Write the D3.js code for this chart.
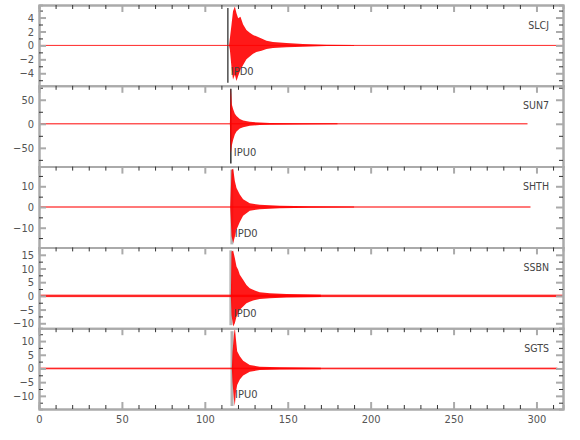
<!DOCTYPE html>
<html>
<head>
<meta charset="utf-8">
<script src="https://cdn.jsdelivr.net/npm/d3@7"></script>
<style>
  body { margin: 0; background: #fff; }
  text { font-family: "Liberation Sans Narrow", "DejaVu Sans Condensed", "Liberation Sans", sans-serif; }
</style>
</head>
<body>
<div id="chart"></div>
<script>
// station traces (time in s, amplitude in counts)
const stations = ['SLCJ', 'SUN7', 'SHTH', 'SSBN', 'SGTS'];
const pickTimes = [113.9, 115.7, 116.3, 115.7, 116.4];
const pickLabels = ['IPD0', 'IPU0', 'IPD0', 'IPD0', 'IPU0'];
const traceEnds = [316, 294.6, 296.4, 316, 312.6];
const noiseLevels = [0.05, 1.2, 0.3, 0.45, 0.3];
const yDomains = [[-5.8, 5.8], [-89, 79], [-19.5, 19.5], [-11.8, 17.7], [-14.8, 14.7]];
const yMajorTicks = [[-4, -2, 0, 2, 4], [-50, 0, 50], [-10, 0, 10], [-10, -5, 0, 5, 10, 15], [-10, -5, 0, 5, 10]];
const yMinorTicks = [[-5, -3, -1, 1, 3, 5], [-75, -25, 25, 75], [-15, -5, 5, 15], [-7.5, -2.5, 2.5, 7.5, 12.5], [-12.5, -7.5, -2.5, 2.5, 7.5, 12.5]];
const xMajorTicks = [0, 50, 100, 150, 200, 250, 300];
const xMinorTicks = [10, 20, 30, 40, 60, 70, 80, 90, 110, 120, 130, 140, 160, 170, 180, 190, 210, 220, 230, 240, 260, 270, 280, 290, 310];

// envelopes of each seismogram around the arrival
const slcjTime = [114.6, 115.1, 116.1, 117.0, 118.1, 119.1, 120.1, 121.5, 123.1, 125.1, 127.1, 129.1, 131.1, 134.2, 137.2, 141.1, 149.2, 159.2, 173.3, 190];
const slcjUpper = [0, 1.0, 3.0, 4.9, 5.6, 4.6, 3.9, 4.1, 3.0, 2.2, 1.8, 1.5, 1.3, 1.0, 0.65, 0.5, 0.33, 0.2, 0.1, 0.05];
const slcjLower = [0, -0.6, -3.2, -4.9, -4.2, -5.1, -4.4, -3.5, -2.8, -2.0, -1.6, -1.2, -0.95, -0.76, -0.52, -0.38, -0.28, -0.2, -0.1, -0.05];

const sun7Time = [115.1, 115.7, 116.3, 117.1, 118.1, 119.1, 121.1, 123.1, 127.1, 133.1, 139.2, 157, 180];
const sun7Upper = [0, 75, 40, 30, 21, 16, 10, 7, 4, 2.5, 1.8, 1.3, 1.2];
const sun7Lower = [0, -62, -45, -33, -22, -16, -10, -7, -4, -2.5, -1.8, -1.3, -1.2];

const shthTime = [115.3, 116.1, 117.1, 118.1, 119.1, 121.1, 123.1, 127.1, 133.1, 145.2, 163, 190];
const shthUpper = [0, 18, 18.5, 12.5, 9.2, 6, 3.8, 1.8, 1.1, 0.6, 0.4, 0.3];
const shthLower = [0, -14, -17.5, -14.4, -11, -7.3, -4.2, -1.8, -1.1, -0.6, -0.4, -0.3];

const ssbnTime = [115.7, 116.1, 117.1, 118.1, 119.1, 120.1, 121.1, 123.1, 125.1, 127.1, 129.1, 133.1, 139.2, 149.2, 170];
const ssbnUpper = [0, 16.2, 16.5, 13.8, 10.7, 9.5, 7.7, 5.9, 4.0, 2.8, 2.2, 1.3, 1.0, 0.7, 0.45];
const ssbnLower = [0, -7, -11.2, -10, -7.6, -6.3, -5.1, -3.9, -2.7, -2.1, -1.7, -1.1, -0.85, -0.6, -0.45];

const sgtsTime = [116.3, 116.7, 117.5, 118.1, 118.7, 119.5, 121.1, 123.1, 127.1, 133.1, 145.2, 170];
const sgtsUpper = [0, 6, 12, 15, 11, 6.3, 4.5, 2.8, 1.3, 0.6, 0.4, 0.3];
const sgtsLower = [0, -5, -11, -13.7, -9, -6, -4, -2.6, -1.2, -0.6, -0.4, -0.3];

const envTimes = [slcjTime, sun7Time, shthTime, ssbnTime, sgtsTime];
const envUppers = [slcjUpper, sun7Upper, shthUpper, ssbnUpper, sgtsUpper];
const envLowers = [slcjLower, sun7Lower, shthLower, ssbnLower, sgtsLower];

const width = 580;
const height = 440;
const margin = { top: 5, right: 17, bottom: 31, left: 39 };
const panelH = (height - margin.top - margin.bottom) / stations.length;
const pickColor = ['#333', '#111', '#b4b4b4', '#b4b4b4', '#b4b4b4'];
const pickWidth = [1.3, 1.3, 3, 3, 3];

const svg = d3.select('#chart')
    .append('svg')
    .attr('width', width)
    .attr('height', height);

const x = d3.scaleLinear()
    .domain([0, 316])
    .range([margin.left, width - margin.right]);

stations.forEach((name, i) => {
    const top = margin.top + i * panelH;
    const bottom = top + panelH;
    const y = d3.scaleLinear().domain(yDomains[i]).range([bottom, top]);
    const g = svg.append('g');

    const clipId = `clip${i}`;
    g.append('clipPath').attr('id', clipId)
        .append('rect')
        .attr('x', margin.left).attr('y', top)
        .attr('width', x(316) - margin.left).attr('height', panelH);

    // pick line
    g.append('line')
        .attr('x1', x(pickTimes[i])).attr('x2', x(pickTimes[i]))
        .attr('y1', top + 3).attr('y2', bottom - 3)
        .attr('stroke', pickColor[i])
        .attr('stroke-width', pickWidth[i]);

    const traces = g.append('g').attr('clip-path', `url(#${clipId})`);

    // background noise band
    traces.append('rect')
        .attr('x', x(0))
        .attr('width', x(traceEnds[i]) - x(0))
        .attr('y', Math.min(y(noiseLevels[i]), y(0) - 0.5))
        .attr('height', Math.max(y(-noiseLevels[i]) - y(noiseLevels[i]), 1))
        .attr('fill', '#ff0000')
        .attr('fill-opacity', 0.85);

    const env = envTimes[i].map((t, k) => ({ t, up: envUppers[i][k], lo: envLowers[i][k] }));
    const area = d3.area()
        .x(d => x(d.t))
        .y0(d => y(d.lo))
        .y1(d => y(d.up));
    traces.append('path')
        .datum(env)
        .attr('d', area)
        .attr('fill', '#ff0000')
        .attr('fill-opacity', 0.9);

    // pick label
    g.append('text')
        .attr('x', x(pickTimes[i]) + 3)
        .attr('y', top + 70)
        .attr('font-size', 11)
        .attr('fill', '#444')
        .text(pickLabels[i]);

    // station name
    g.append('text')
        .attr('x', 549)
        .attr('y', top + 23.5)
        .attr('text-anchor', 'end')
        .attr('font-size', 10.5)
        .attr('fill', '#444')
        .text(name);

    // y axes, left and right
    const left = g.append('g').attr('transform', `translate(${margin.left},0)`);
    left.call(d3.axisLeft(y).tickValues(yMajorTicks[i]).tickSize(-7).tickSizeOuter(0).tickPadding(5));
    left.append('g').call(d3.axisLeft(y).tickValues(yMinorTicks[i]).tickSize(-4).tickFormat(''));
    const right = g.append('g').attr('transform', `translate(${x(316)},0)`);
    right.call(d3.axisRight(y).tickValues(yMajorTicks[i]).tickSize(-7).tickSizeOuter(0).tickFormat(''));
    right.append('g').call(d3.axisRight(y).tickValues(yMinorTicks[i]).tickSize(-4).tickFormat(''));

    // ticks along the top edge of each panel
    const topAx = g.append('g').attr('transform', `translate(0,${top})`);
    topAx.call(d3.axisTop(x).tickValues(xMajorTicks).tickSize(-7).tickSizeOuter(0).tickFormat(''));
    topAx.append('g').call(d3.axisTop(x).tickValues(xMinorTicks).tickSize(-4).tickFormat('')).classed('minor', true);

    if (i === stations.length - 1) {
        const botAx = g.append('g').attr('transform', `translate(0,${bottom})`);
        botAx.call(d3.axisBottom(x).tickValues(xMajorTicks).tickSize(-7).tickSizeOuter(0).tickPadding(6));
        botAx.append('g').call(d3.axisBottom(x).tickValues(xMinorTicks).tickSize(-4).tickFormat('')).classed('minor', true);
    }
});

svg.selectAll('.domain')
    .attr('stroke', '#aaa')
    .attr('stroke-width', 2);
svg.selectAll('.tick line')
    .attr('stroke', '#aaa')
    .attr('stroke-width', 2);
svg.selectAll('g g g .tick line, .minor .tick line')
    .attr('stroke', '#333')
    .attr('stroke-width', 1);
svg.selectAll('.tick text')
    .attr('fill', '#555')
    .attr('font-size', 11)
    .attr('font-family', '"Liberation Sans Narrow", "DejaVu Sans Condensed", sans-serif');
</script>
</body>
</html>
